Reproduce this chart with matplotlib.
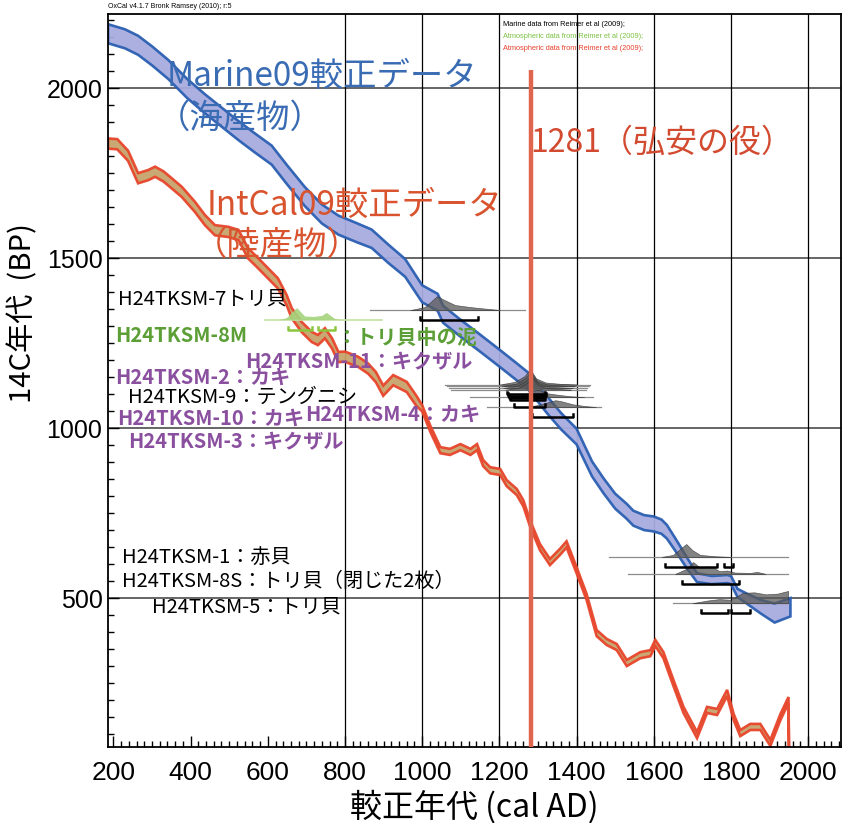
import numpy as np
import matplotlib
matplotlib.use('Agg')
import matplotlib.pyplot as plt
from matplotlib.ticker import MultipleLocator

plt.rcParams['font.family'] = ['Noto Sans CJK JP', 'DejaVu Sans']

# Marine09 (海産物) 較正曲線: 暦年, 14C年代, 誤差
marine_x = [186, 230, 264, 300, 342, 390, 437, 480, 523, 565, 610, 650, 696, 740, 783, 830,
            869, 912, 956, 1000, 1040, 1054, 1099, 1150, 1200, 1240, 1275, 1324, 1360, 1400,
            1440, 1470, 1500, 1530, 1547, 1575, 1600, 1620, 1634, 1660, 1686, 1712, 1750,
            1790, 1800, 1817, 1843, 1878, 1913, 1954]
marine_y = [2160, 2145, 2126, 2095, 2055, 2000, 1954, 1915, 1876, 1840, 1803, 1745, 1681, 1630,
            1597, 1575, 1557, 1513, 1471, 1395, 1370, 1335, 1294, 1250, 1206, 1170, 1138, 1068,
            1020, 975, 880, 830, 785, 755, 735, 722, 718, 710, 695, 650, 603, 560, 553, 556,
            553, 515, 497, 474, 456, 473]
marine_err = [28, 28, 28, 28, 28, 28, 28, 28, 28, 28, 28, 28, 28, 28, 28, 28, 27, 27, 26, 25,
              25, 25, 25, 25, 25, 25, 25, 25, 24, 23, 22, 22, 22, 22, 22, 22, 22, 21, 20, 18,
              16, 13, 12, 12, 12, 12, 15, 20, 28, 27]

# IntCal09 (陸産物) 較正曲線
intcal_x = [186, 210, 238, 264, 290, 308, 330, 351, 377, 411, 437, 463, 498, 524, 549, 575,
            600, 626, 649, 662, 688, 714, 730, 748, 766, 783, 800, 834, 860, 880, 899, 925,
            960, 985, 1000, 1021, 1047, 1072, 1099, 1125, 1142, 1158, 1176, 1202, 1219, 1245,
            1262, 1279, 1305, 1331, 1357, 1374, 1400, 1426, 1452, 1478, 1504, 1530, 1565,
            1591, 1604, 1625, 1651, 1677, 1712, 1738, 1764, 1790, 1807, 1824, 1850, 1876,
            1902, 1928, 1949, 1951]
intcal_y = [1837, 1835, 1801, 1735, 1744, 1754, 1740, 1720, 1695, 1651, 1612, 1582, 1577, 1568,
            1514, 1485, 1456, 1426, 1376, 1338, 1297, 1268, 1259, 1279, 1250, 1209, 1210, 1195,
            1175, 1150, 1110, 1141, 1121, 1080, 1058, 998, 935, 930, 944, 930, 944, 897, 876,
            871, 838, 812, 779, 721, 650, 606, 636, 658, 582, 503, 397, 371, 356, 309, 332, 338,
            368, 332, 250, 171, 97, 171, 165, 221, 150, 103, 121, 121, 74, 150, 200, -40]
intcal_err = [15] * 34 + [9] * 42

# 試料の 14C 年代と較正確率分布
sample_names = ['7', '11', '2', '10', '4', '9', '3', '1', '8S', '5']
sample_c14 = [1347, 1128, 1123, 1118, 1113, 1091, 1062, 621, 571, 485]
sample_line = [(865, 1266), (1059, 1435), (1065, 1432), (1070, 1428), (1075, 1425),
               (1124, 1443), (1168, 1462), (1484, 1948), (1534, 1948), (1650, 1948)]
sample_dens_x = [
    [969, 1007, 1038, 1059, 1085, 1124, 1176, 1202],
    [1200, 1240, 1265, 1280, 1295, 1320, 1360, 1400],
    [1205, 1245, 1268, 1282, 1298, 1325, 1365, 1395],
    [1210, 1248, 1270, 1283, 1300, 1322, 1355, 1390],
    [1215, 1250, 1272, 1285, 1300, 1320, 1350, 1385],
    [1230, 1262, 1285, 1300, 1320, 1345, 1380, 1420],
    [1270, 1300, 1320, 1345, 1360, 1390, 1420, 1450],
    [1620, 1650, 1670, 1684, 1700, 1720, 1760, 1800],
    [1655, 1685, 1702, 1720, 1740, 1752, 1770, 1790, 1810, 1850, 1868, 1890],
    [1700, 1740, 1770, 1800, 1815, 1830, 1860, 1890, 1920, 1948],
]
sample_dens_h = [
    [0, 9, 41, 29, 15, 9, 3, 0],
    [0, 8, 25, 45, 18, 6, 2, 0],
    [0, 8, 25, 42, 16, 5, 2, 0],
    [0, 7, 22, 38, 15, 5, 2, 0],
    [0, 6, 20, 35, 14, 5, 2, 0],
    [0, 6, 18, 22, 12, 8, 3, 0],
    [0, 6, 12, 20, 17, 8, 3, 0],
    [0, 6, 25, 38, 20, 6, 2, 0],
    [0, 15, 35, 18, 22, 20, 8, 10, 4, 3, 6, 0],
    [0, 8, 12, 10, 20, 30, 32, 26, 28, 36],
]
sample_range = [
    [(994, 1145)],
    [(1220, 1318)],
    [(1222, 1320)],
    [(1225, 1316)],
    [(1228, 1318)],
    [(1238, 1318)],
    [(1285, 1391)],
    [(1629, 1764), (1782, 1805)],
    [(1674, 1821)],
    [(1722, 1791), (1800, 1850)],
]

# 8M (トリ貝中の泥, 陸産物として較正)
mud_c14 = 1318
mud_line = (592, 896)
mud_dens_x = [630, 649, 676, 697, 720, 741, 753, 774, 790]
mud_dens_h = [0, 5, 35, 10, 9, 12, 21, 3, 0]
mud_range = [(652, 715), (730, 774)]

blue_edge = '#2b5fb2'
blue_fill = '#a7acdf'
red_edge = '#e8452c'
red_fill = '#c8a46b'
purple = '#8a509f'
green = '#5b9f36'

fig = plt.figure(figsize=(8.45, 8.23), dpi=100)
ax = fig.add_axes([108 / 845, 76 / 823, 733 / 845, 733 / 823])
ax.set_xlim(186, 2085)
ax.set_ylim(62, 2218)

# グリッド
for v in [500, 1000, 1500, 2000]:
    ax.axhline(v, color='#3c3c3c', lw=1.1, zorder=1)
for v in range(800, 2001, 200):
    ax.axvline(v, color='black', lw=0.9, zorder=1)


def band(x, y, e, fc, ec):
    x = np.array(x, float)
    y = np.array(y, float)
    e = np.array(e, float)
    px = np.r_[x, x[::-1]]
    py = np.r_[y + e, (y - e)[::-1]]
    ax.fill(px, py, facecolor=fc, edgecolor=ec, lw=1.9, alpha=0.95, zorder=2)


band(marine_x, marine_y, marine_err, blue_fill, blue_edge)
band(intcal_x, intcal_y, intcal_err, red_fill, red_edge)

# 確率分布
off = 29
tick = 8
for i in range(len(sample_names)):
    b = sample_c14[i]
    x0, x1 = sample_line[i]
    ax.plot([x0, x1], [b, b], color='#8c8c8c', lw=0.9, zorder=3)
    dx = np.array(sample_dens_x[i], float)
    dh = np.array(sample_dens_h[i], float)
    ax.fill_between(dx, b, b + dh, facecolor='#5a5a5a', edgecolor='#333333', lw=0.5,
                    alpha=0.75, zorder=4)
    for r0, r1 in sample_range[i]:
        ax.plot([r0, r0, r1, r1], [b - off + tick, b - off, b - off, b - off + tick],
                color='black', lw=1.8, zorder=5)

ax.plot(mud_line, [mud_c14, mud_c14], color='#c3e2a2', lw=1.2, zorder=3)
ax.fill_between(mud_dens_x, mud_c14, mud_c14 + np.array(mud_dens_h), facecolor='#a5d47c',
                edgecolor='none', alpha=0.9, zorder=4)
for r0, r1 in mud_range:
    ax.plot([r0, r0, r1, r1], [mud_c14 - off + tick, mud_c14 - off, mud_c14 - off,
                               mud_c14 - off + tick], color='#8cc63f', lw=1.8, zorder=5)

# 弘安の役 1281
ax.plot([1281, 1281], [62, 2053], color='#e0654f', lw=3.2, zorder=6, solid_capstyle='butt')

# 軸
ax.xaxis.set_major_locator(MultipleLocator(200))
ax.xaxis.set_minor_locator(MultipleLocator(20))
ax.yaxis.set_major_locator(MultipleLocator(500))
ax.yaxis.set_minor_locator(MultipleLocator(50))
ax.tick_params(which='both', direction='in', top=False, right=False, width=1)
ax.tick_params(which='major', length=8)
ax.tick_params(which='minor', length=4)
ax.tick_params(axis='x', pad=10)
ax.tick_params(axis='y', pad=4)
for t in ax.get_xticklabels():
    t.set_fontfamily(['Liberation Sans Narrow', 'Liberation Sans'])
    t.set_fontsize(19)
for t in ax.get_yticklabels():
    t.set_fontfamily(['Liberation Sans', 'DejaVu Sans'])
    t.set_fontsize(18)
for s in ax.spines.values():
    s.set_linewidth(1.3)

ax.set_xlabel('較正年代 (cal AD)', fontsize=23, labelpad=4)
ax.text(-0.115, 0.592, '14C年代  (BP)', transform=ax.transAxes, rotation=90, fontsize=21,
        ha='center', va='center')

# 上部の注記
fig.text(108 / 845, 1 - 6 / 823, 'OxCal v4.1.7 Bronk Ramsey (2010); r:5', fontsize=5,
         family=['Liberation Sans'], va='center')
fig.text(503 / 845, 1 - 25 / 823, 'Marine data from Reimer et al (2009);', fontsize=5.3,
         family=['Liberation Sans'], va='center', color='black')
fig.text(503 / 845, 1 - 37 / 823, 'Atmospheric data from Reimer et al (2009);', fontsize=5.3,
         family=['Liberation Sans'], va='center', color='#7cc043')
fig.text(503 / 845, 1 - 48 / 823, 'Atmospheric data from Reimer et al (2009);', fontsize=5.3,
         family=['Liberation Sans'], va='center', color='#e8402c')

# 曲線の名前
ax.text(339, 2035, 'Marine09較正データ', fontsize=24, color='#3a6cb4', va='center', zorder=7)
ax.text(312, 1912, '（海産物）', fontsize=24, color='#3a6cb4', va='center', zorder=7)
ax.text(442, 1656, 'IntCal09較正データ', fontsize=24, color='#d8532e', va='center', zorder=7)
ax.text(408, 1538, '（陸産物）', fontsize=24, color='#d8532e', va='center', zorder=7)
ax.text(1280, 1838, '1281（弘安の役）', fontsize=23, color='#d24a30', va='center', zorder=7)

# 試料名
lab = dict(va='center', zorder=8, fontsize=14.5)
ax.text(212, 1379, 'H24TKSM-7トリ貝', color='black', **lab)
ax.text(204, 1271, 'H24TKSM-8M', color=green, fontweight='bold', **lab)
ax.text(779, 1268, '：トリ貝中の泥', color=green, fontweight='bold', **lab)
ax.text(541, 1194, 'H24TKSM-11：キクザル', color=purple, fontweight='bold', **lab)
ax.text(204, 1150, 'H24TKSM-2：カキ', color=purple, fontweight='bold', **lab)
ax.text(238, 1091, 'H24TKSM-9：テングニシ', color='black', **lab)
ax.text(209, 1029, 'H24TKSM-10：カキ', color=purple, fontweight='bold', **lab)
ax.text(696, 1041, 'H24TKSM-4：カキ', color=purple, fontweight='bold', **lab)
ax.text(238, 959, 'H24TKSM-3：キクザル', color=purple, fontweight='bold', **lab)
ax.text(222, 621, 'H24TKSM-1：赤貝', color='black', **lab)
ax.text(222, 550, 'H24TKSM-8S：トリ貝（閉じた2枚）', color='black', **lab)
ax.text(300, 474, 'H24TKSM-5：トリ貝', color='black', **lab)

fig.savefig('out.png', dpi=100)
